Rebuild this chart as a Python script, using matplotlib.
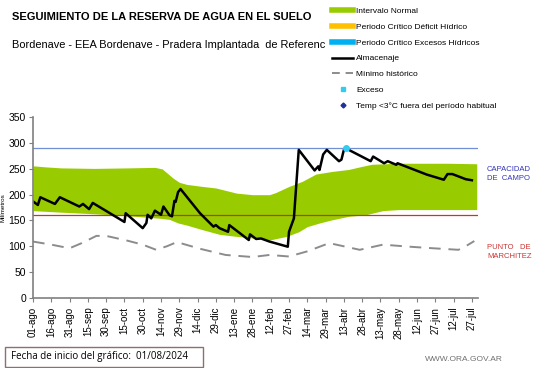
import numpy as np
import matplotlib.pyplot as plt
from matplotlib.lines import Line2D
from matplotlib.patches import Rectangle

# almacenaje (dias desde 01/08/2024, mm)
alm_dias = [0, 4, 6, 18, 22, 38, 41, 46, 49, 61, 75, 76, 90, 93, 94, 97, 100, 105,
            107, 112, 114, 116, 117, 119, 121, 137, 148, 150, 153, 160, 161, 177,
            178, 183, 187, 194, 209, 210, 214, 218, 231, 234, 235, 238, 241, 251,
            253, 255, 257, 259, 277, 279, 288, 291, 298, 299, 323, 330, 337, 340,
            344, 355, 360]
alm_mm = [187, 180, 195, 182, 195, 177, 182, 172, 184, 167, 147, 164, 135, 145, 161,
          154, 169, 161, 177, 160, 158, 188, 186, 205, 211, 164, 138, 141, 135, 128,
          141, 112, 123, 114, 115, 109, 99, 128, 154, 287, 247, 255, 248, 278, 287,
          265, 268, 287, 290, 287, 265, 274, 261, 265, 258, 261, 239, 234, 229, 240,
          240, 230, 228]

# intervalo normal
sup_dias = [0, 10, 23, 50, 78, 100, 106, 110, 115, 120, 126, 139, 150, 167, 180,
            194, 199, 210, 221, 232, 245, 259, 270, 278, 300, 340, 364]
sup_mm = [256, 254, 252, 251, 252, 253, 250, 242, 232, 224, 220, 216, 213, 203, 200,
          200, 204, 216, 226, 240, 245, 249, 255, 259, 261, 261, 260]
inf_dias = [0, 23, 50, 64, 78, 105, 112, 119, 126, 139, 153, 167, 180, 194, 208,
            218, 225, 235, 245, 259, 273, 287, 300, 364]
inf_mm = [169, 166, 163, 161, 159, 154, 152, 145, 141, 132, 123, 119, 116, 112, 119,
          128, 138, 145, 151, 158, 161, 169, 171, 171]

# minimo historico
min_dias = [0, 15, 30, 40, 52, 60, 77, 90, 101, 110, 118, 137, 158, 180, 194, 210,
            225, 243, 268, 287, 309, 328, 349, 355, 362]
min_mm = [109, 103, 96, 106, 120, 120, 111, 103, 93, 100, 108, 95, 83, 79, 83, 80,
          90, 106, 93, 103, 99, 96, 93, 100, 110]

exceso_dias = [257]
exceso_mm = [290]

capacidad_campo = 290
punto_marchitez = 160

tick_dias = list(range(0, 361, 15))
tick_labels = ['01-ago', '16-ago', '31-ago', '15-sep', '30-sep', '15-oct', '30-oct',
               '14-nov', '29-nov', '14-dic', '29-dic', '13-ene', '28-ene', '12-feb',
               '27-feb', '14-mar', '29-mar', '13-abr', '28-abr', '13-may', '28-may',
               '12-jun', '27-jun', '12-jul', '27-jul']

plt.rcParams['font.family'] = ['Liberation Sans', 'DejaVu Sans']

fig = plt.figure(figsize=(5.41, 3.68), dpi=100)
ax = fig.add_axes([0.061, 0.191, 0.8225, 0.49])

# banda normal
grid = np.arange(0, 365)
sup = np.interp(grid, sup_dias, sup_mm)
inf = np.interp(grid, inf_dias, inf_mm)
ax.fill_between(grid, inf, sup, color='#99cc00', linewidth=0)

ax.axhline(capacidad_campo, color='#6f8fd6', linewidth=0.9)
ax.axhline(punto_marchitez, color='#c0392b', linewidth=0.9)

ax.plot(min_dias, min_mm, color='#8c8c8c', linewidth=1.4, dashes=(6, 4))
ax.plot(alm_dias, alm_mm, color='black', linewidth=1.8)
ax.plot(exceso_dias, exceso_mm, 'o', color='#33ccee', markersize=4)

ax.set_xlim(0, 365)
ax.set_ylim(0, 350)
ax.set_yticks(range(0, 351, 50))
ax.set_xticks(tick_dias)
ax.set_xticklabels(tick_labels, rotation=90, fontsize=7)
ax.tick_params(axis='y', labelsize=7.5, length=3, pad=2, color='#808080')
ax.tick_params(axis='x', length=3, color='#808080')
for s in ['top', 'right']:
    ax.spines[s].set_visible(False)
for s in ['left', 'bottom']:
    ax.spines[s].set_color('#808080')
    ax.spines[s].set_linewidth(1.2)
ax.set_ylabel('Milímetros', fontsize=4.5)
ax.yaxis.set_label_coords(-0.061, 0.5)

# textos
fig.text(0.022, 0.953, 'SEGUIMIENTO DE LA RESERVA DE AGUA EN EL SUELO',
         fontsize=8, fontweight='bold', va='center')
fig.text(0.022, 0.877, 'Bordenave - EEA Bordenave - Pradera Implantada  de Referenc',
         fontsize=7.9, va='center')
fig.text(0.9, 0.527, 'CAPACIDAD\nDE  CAMPO', fontsize=5.5, color='#3333bb',
         va='center', linespacing=1.3)
fig.text(0.9, 0.315, 'PUNTO   DE\nMARCHITEZ', fontsize=5.5, color='#cc3333',
         va='center', linespacing=1.3)
fig.text(0.785, 0.022, 'WWW.ORA.GOV.AR', fontsize=6, color='#707070', va='center')

caja = Rectangle((0.009, 0.003), 0.367, 0.054, transform=fig.transFigure,
                 fill=False, edgecolor='#8c7070', linewidth=1)
fig.add_artist(caja)
fig.text(0.02, 0.03, 'Fecha de inicio del gráfico:  01/08/2024', fontsize=7,
         va='center', family=['Open Sans', 'DejaVu Sans'])

# leyenda
handles = [
    Line2D([], [], color='#99cc00', linewidth=4),
    Line2D([], [], color='#ffc000', linewidth=4),
    Line2D([], [], color='#00b0f0', linewidth=4),
    Line2D([], [], color='black', linewidth=1.8),
    Line2D([], [], color='#8c8c8c', linewidth=1.4, dashes=(4, 3)),
    Line2D([], [], marker='s', color='#33ccee', linestyle='none', markersize=2.5),
    Line2D([], [], marker='D', color='#1f2fa0', linestyle='none', markersize=2.5),
]
labels = ['Intervalo Normal', 'Periodo Crítico Déficit Hídrico',
          'Periodo Crítico Excesos Hídricos', 'Almacenaje', 'Mínimo histórico',
          'Exceso', 'Temp <3°C fuera del período habitual']
fig.legend(handles, labels, loc='upper left', bbox_to_anchor=(0.607, 0.989),
           fontsize=6, frameon=False, handlelength=2.6, handletextpad=0.3,
           labelspacing=0.95, borderaxespad=0)

fig.savefig('out.png', dpi=100)
